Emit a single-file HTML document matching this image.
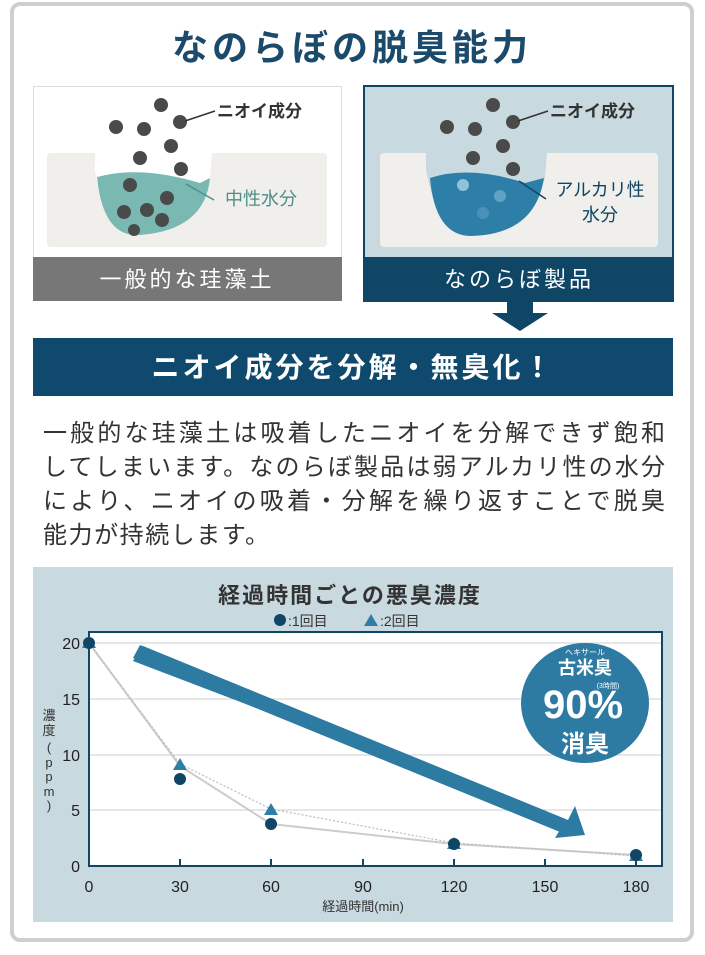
<!DOCTYPE html>
<html><head><meta charset="utf-8"><style>
html,body{margin:0;padding:0;background:#fff;}
svg{display:block;}
text{font-family:"Liberation Sans","Noto Sans CJK JP",sans-serif;}
</style></head><body>
<svg width="705" height="955" viewBox="0 0 705 955" xmlns="http://www.w3.org/2000/svg">
<rect x="12" y="4" width="680" height="936" rx="8" fill="#fff" stroke="#cfcfcf" stroke-width="4"/>
<text x="352" y="60" text-anchor="middle" font-size="36" font-weight="bold" fill="#1b4a6b" letter-spacing="4">なのらぼの脱臭能力</text>

<!-- left panel -->
<rect x="33.5" y="86.5" width="308" height="214" fill="#fff" stroke="#bbb" stroke-dasharray="1,1"/>
<rect x="47" y="153" width="280" height="94" rx="4" fill="#f1efec"/>
<path d="M95 153 L95 170 Q105 240 140 234 Q195 232 210 178 L212 153 Z" fill="#fff"/>
<path d="M97 177 Q140 165 200 183 L210 178 Q205 230 140 235 Q103 238 97 177Z" fill="#79b9b2"/>
<g fill="#4a4a4a">
<circle cx="161" cy="105" r="7"/><circle cx="116" cy="127" r="7"/><circle cx="144" cy="129" r="7"/><circle cx="180" cy="122" r="7"/>
<circle cx="171" cy="146" r="7"/><circle cx="140" cy="158" r="7"/><circle cx="181" cy="169" r="7"/>
<circle cx="130" cy="185" r="7"/><circle cx="167" cy="198" r="7"/><circle cx="147" cy="210" r="7"/><circle cx="124" cy="212" r="7"/><circle cx="162" cy="220" r="7"/><circle cx="134" cy="230" r="6"/></g>
<line x1="185" y1="121" x2="215" y2="111" stroke="#333" stroke-width="1.5"/>
<text x="217" y="117" font-size="17" font-weight="bold" fill="#333">ニオイ成分</text>
<line x1="186" y1="184" x2="214" y2="200" stroke="#4d8f8a" stroke-width="1.5"/>
<text x="225" y="205" font-size="18" fill="#4d8f8a">中性水分</text>
<rect x="33" y="257" width="309" height="44" fill="#777"/>
<text x="187" y="287" text-anchor="middle" font-size="22" fill="#fff" letter-spacing="3">一般的な珪藻土</text>

<!-- right panel -->
<rect x="364" y="86" width="309" height="215" fill="#c9d9e0" stroke="#0f4565" stroke-width="2"/>
<rect x="380" y="153" width="278" height="94" rx="4" fill="#f1efec"/>
<path d="M426 153 L426 170 Q440 240 470 234 Q525 232 545 178 L547 153 Z" fill="#c9d9e0"/>
<path d="M430 178 Q470 165 525 183 L544 178 Q535 235 470 236 Q435 235 430 178Z" fill="#2d7fa8"/>
<circle cx="463" cy="185" r="6" fill="#8ec3dd"/><circle cx="500" cy="196" r="6" fill="#5fa2c6"/><circle cx="483" cy="213" r="6" fill="#4a90b8"/>
<g fill="#4a4a4a">
<circle cx="493" cy="105" r="7"/><circle cx="447" cy="127" r="7"/><circle cx="475" cy="129" r="7"/><circle cx="513" cy="122" r="7"/>
<circle cx="503" cy="146" r="7"/><circle cx="473" cy="158" r="7"/><circle cx="513" cy="169" r="7"/></g>
<line x1="518" y1="121" x2="548" y2="111" stroke="#333" stroke-width="1.5"/>
<text x="550" y="117" font-size="17" font-weight="bold" fill="#333">ニオイ成分</text>
<line x1="519" y1="181" x2="546" y2="199" stroke="#0f4565" stroke-width="1.5"/>
<text x="600" y="196" text-anchor="middle" font-size="18" fill="#0f4565">アルカリ性</text>
<text x="600" y="221" text-anchor="middle" font-size="18" fill="#0f4565">水分</text>
<rect x="364" y="257" width="309" height="44" fill="#0f4565"/>
<text x="519" y="287" text-anchor="middle" font-size="22" fill="#fff" letter-spacing="3">なのらぼ製品</text>
<path d="M507 300 L533 300 L533 313 L548 313 L520 331 L492 313 L507 313 Z" fill="#0f4565"/>

<!-- banner -->
<rect x="33" y="338" width="640" height="58" fill="#0f4a6e"/>
<text x="353" y="377" text-anchor="middle" font-size="28" font-weight="bold" fill="#fff" letter-spacing="3">ニオイ成分を分解・無臭化！</text>

<g font-size="24" fill="#333">
<text x="43" y="441" textLength="622" lengthAdjust="spacing">一般的な珪藻土は吸着したニオイを分解できず飽和</text>
<text x="43" y="475" textLength="622" lengthAdjust="spacing">してしまいます。なのらぼ製品は弱アルカリ性の水分</text>
<text x="43" y="509" textLength="622" lengthAdjust="spacing">により、ニオイの吸着・分解を繰り返すことで脱臭</text>
<text x="43" y="543" textLength="226" lengthAdjust="spacing">能力が持続します。</text>
</g>

<!-- chart panel -->
<rect x="33" y="567" width="640" height="355" fill="#c9d9e0"/>
<text x="350" y="603" text-anchor="middle" font-size="22" font-weight="bold" fill="#333" letter-spacing="2">経過時間ごとの悪臭濃度</text>
<circle cx="280" cy="620" r="6" fill="#0f4565"/>
<text x="288" y="626" font-size="14" fill="#333">:1回目</text>
<path d="M364 626 L371 614 L378 626Z" fill="#2d7fa8"/>
<text x="380" y="626" font-size="14" fill="#333">:2回目</text>

<rect x="89" y="632" width="573" height="234" fill="#fff" stroke="#0f4565" stroke-width="2"/>
<g stroke="#ccc" stroke-width="1">
<line x1="90" y1="643" x2="661" y2="643"/><line x1="90" y1="699" x2="661" y2="699"/>
<line x1="90" y1="755" x2="661" y2="755"/><line x1="90" y1="810" x2="661" y2="810"/></g>
<g stroke="#0f4565" stroke-width="2">
<line x1="180" y1="859" x2="180" y2="866"/><line x1="271" y1="859" x2="271" y2="866"/><line x1="363" y1="859" x2="363" y2="866"/>
<line x1="454" y1="859" x2="454" y2="866"/><line x1="545" y1="859" x2="545" y2="866"/><line x1="636" y1="859" x2="636" y2="866"/></g>
<g font-size="16" fill="#222" text-anchor="end">
<text x="80" y="649">20</text><text x="80" y="705">15</text><text x="80" y="761">10</text><text x="80" y="816">5</text><text x="80" y="872">0</text></g>
<g font-size="16" fill="#222" text-anchor="middle">
<text x="89" y="892">0</text><text x="180" y="892">30</text><text x="271" y="892">60</text><text x="363" y="892">90</text>
<text x="454" y="892">120</text><text x="545" y="892">150</text><text x="636" y="892">180</text></g>
<text x="363" y="911" text-anchor="middle" font-size="13" fill="#333">経過時間(min)</text>
<g font-size="13" fill="#333" text-anchor="middle">
<text x="49" y="720">濃</text><text x="49" y="735">度</text><text x="49" y="752">(</text><text x="49" y="767">p</text><text x="49" y="781">p</text><text x="49" y="796">m</text><text x="49" y="810">)</text></g>

<path d="M133 661 L143 646 L568 820 L575 806 L585 835 L555 838 L563 825 L133 661Z" fill="#2d7aa3"/>
<path d="M133 658 L140 645 L566 820 L560 832 Z" fill="#2d7aa3"/>

<polyline points="89,643 180,766 271,824 454,844 636,855" fill="none" stroke="#ccc" stroke-width="2"/>
<polyline points="89,643 180,764 271,809 454,843 636,856" fill="none" stroke="#bbb" stroke-width="1.2" stroke-dasharray="2,2"/>
<g fill="#2d7fa8">
<path d="M82 648 L89 636 L96 648Z"/><path d="M173 770 L180 758 L187 770Z"/><path d="M264 815 L271 803 L278 815Z"/>
<path d="M447 849 L454 837 L461 849Z"/><path d="M629 861 L636 849 L643 861Z"/></g>
<g fill="#0f4565">
<circle cx="89" cy="643" r="6"/><circle cx="180" cy="779" r="6"/><circle cx="271" cy="824" r="6"/>
<circle cx="454" cy="844" r="6"/><circle cx="636" cy="855" r="6"/></g>

<ellipse cx="585" cy="703" rx="64" ry="60" fill="#2d7aa3"/>
<text x="585" y="655" text-anchor="middle" font-size="8" fill="#fff">ヘキサール</text>
<text x="585" y="674" text-anchor="middle" font-size="18" font-weight="bold" fill="#fff">古米臭</text>
<text x="608" y="688" text-anchor="middle" font-size="7" fill="#fff">(3時間)</text>
<text x="583" y="718" text-anchor="middle" font-size="40" font-weight="bold" fill="#fff">90%</text>
<text x="585" y="752" text-anchor="middle" font-size="24" font-weight="bold" fill="#fff">消臭</text>
</svg>
</body></html>
